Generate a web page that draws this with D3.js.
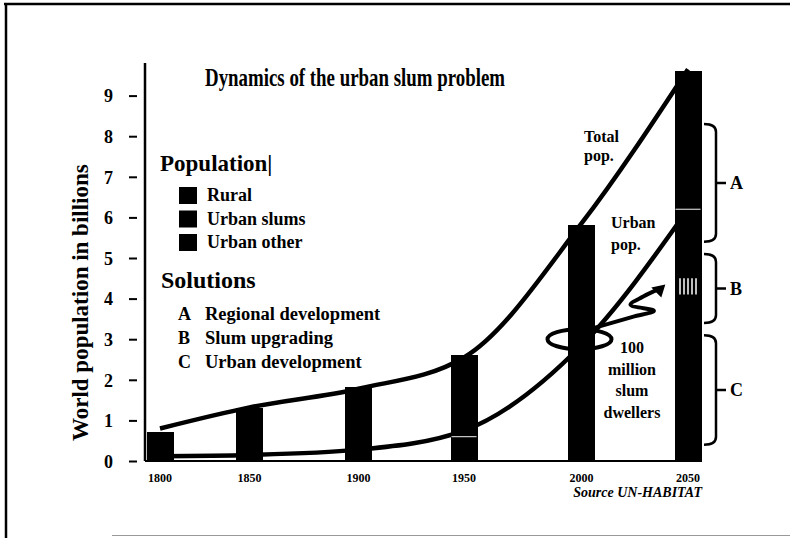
<!DOCTYPE html>
<html>
<head>
<meta charset="utf-8">
<script src="https://cdn.jsdelivr.net/npm/d3@7"></script>
<style>
	body { margin: 0; background: #fff; }
	svg { display: block; }
	text { font-family: "Liberation Serif", "Times New Roman", serif; fill: #000; }
</style>
</head>
<body>
<div id="chart"></div>
<script>
// values (billions)
var years = [1800, 1850, 1900, 1950, 2000, 2050];
var rural = [0.6, 1.1, 1.5, 2.0, 2.9, 3.4];
var urbanSlums = [0.02, 0.05, 0.1, 0.15, 0.9, 2.0];
var urbanOther = [0.08, 0.15, 0.2, 0.45, 2.0, 4.2];
var totalPop = [0.8, 1.32, 1.78, 2.55, 5.85, 9.65];
var urbanPop = [0.12, 0.15, 0.28, 0.75, 2.85, 6.2];
var yTicks = [0, 1, 2, 3, 4, 5, 6, 7, 8, 9];
var legendLabels = ["Rural", "Urban slums", "Urban other"];
var solutionKeys = ["A", "B", "C"];
var solutionLabels = ["Regional development", "Slum upgrading", "Urban development"];
var bracketTop = [8.3, 5.1, 3.1];
var bracketBottom = [5.4, 3.4, 0.4];
var slumNote = ["100", "million", "slum", "dwellers"];

var w = 790, h = 538;
var barW = 27;
// the year axis of the original is drawn by hand, so the stops are uneven
var xStops = [160, 249.5, 358.5, 464, 581.5, 688];

var svg = d3.select("#chart").append("svg")
	.attr("width", w)
	.attr("height", h);

// frame of the scanned slide
svg.append("line").attr("x1", 4).attr("x2", w).attr("y1", 4).attr("y2", 4)
	.attr("stroke", "#000").attr("stroke-width", 2.5);
svg.append("line").attr("x1", 6).attr("x2", 6).attr("y1", 3).attr("y2", h)
	.attr("stroke", "#000").attr("stroke-width", 2.5);
svg.append("line").attr("x1", 112).attr("x2", w).attr("y1", 535.5).attr("y2", 535.5)
	.attr("stroke", "#999").attr("stroke-width", 1);

var xScale = d3.scaleLinear().domain(years).range(xStops);
var yScale = d3.scaleLinear().domain([0, 9]).range([461, 95.6]);

var rows = years.map(function (y, i) {
	return {year: y, rural: rural[i], urbanSlums: urbanSlums[i], urbanOther: urbanOther[i]};
});
var stack = d3.stack().keys(["urbanOther", "urbanSlums", "rural"]);
var series = stack(rows);

// y axis
var yAxis = d3.axisLeft(yScale)
	.tickValues(yTicks)
	.tickSize(8)
	.tickPadding(16)
	.tickFormat(d3.format("d"));

var gy = svg.append("g")
	.attr("transform", "translate(137,0)")
	.call(yAxis);
gy.select(".domain").remove();
gy.selectAll(".tick line").attr("stroke", "#000").attr("stroke-width", 2);
gy.selectAll(".tick text")
	.attr("font-family", "Liberation Serif")
	.attr("font-size", 18)
	.attr("font-weight", "bold")
	.attr("dy", "0.35em");

svg.append("line")
	.attr("x1", 145).attr("x2", 145)
	.attr("y1", yScale(9.8)).attr("y2", yScale(0))
	.attr("stroke", "#000").attr("stroke-width", 2.5);

svg.append("text")
	.attr("transform", "translate(88," + yScale(3.9) + ") rotate(-90)")
	.attr("text-anchor", "middle")
	.attr("font-size", 23)
	.attr("font-weight", "bold")
	.text("World population in billions");

// population curves, drawn under the bars
var line = d3.line()
	.x(function (d) { return xScale(d[0]); })
	.y(function (d) { return yScale(d[1]); })
	.curve(d3.curveMonotoneX);

[totalPop, urbanPop].forEach(function (vals) {
	svg.append("path")
		.datum(years.map(function (y, i) { return [y, vals[i]]; }))
		.attr("d", line)
		.attr("fill", "none")
		.attr("stroke", "#000")
		.attr("stroke-width", 4.5);
});

// stacked bars (the scan is black & white, so every part is black)
svg.selectAll("g.layer")
	.data(series)
	.enter().append("g")
	.attr("class", "layer")
	.attr("fill", "#000")
	.selectAll("rect")
	.data(function (d) { return d; })
	.enter().append("rect")
	.attr("shape-rendering", "crispEdges")
	.attr("x", function (d) { return xScale(d.data.year) - barW / 2; })
	.attr("width", barW)
	.attr("y", function (d) { return yScale(d[1]) - 0.5; })
	.attr("height", function (d) { return yScale(d[0]) - yScale(d[1]) + 1; });

// pale seam between urban and rural where it shows
svg.selectAll("line.seam")
	.data(rows.filter(function (d) { return d.urbanOther + d.urbanSlums >= 0.5 && d.year !== 2000; }))
	.enter().append("line")
	.attr("class", "seam")
	.attr("x1", function (d) { return xScale(d.year) - barW / 2 + 1; })
	.attr("x2", function (d) { return xScale(d.year) + barW / 2 - 1; })
	.attr("y1", function (d) { return yScale(d.urbanOther + d.urbanSlums); })
	.attr("y2", function (d) { return yScale(d.urbanOther + d.urbanSlums); })
	.attr("stroke", "#ccc")
	.attr("stroke-width", 1.2);

// hatch in the 2050 bar where the arrow points
var hatchX = d3.range(-8, 10, 4);
svg.selectAll("line.hatch")
	.data(hatchX)
	.enter().append("line")
	.attr("class", "hatch")
	.attr("x1", function (d) { return xScale(2050) + d; })
	.attr("x2", function (d) { return xScale(2050) + d; })
	.attr("y1", yScale(4.5))
	.attr("y2", yScale(4.1))
	.attr("stroke", "#fff")
	.attr("stroke-width", 1.5);

// baseline
svg.append("line")
	.attr("x1", 145).attr("x2", xScale(2050) + barW / 2)
	.attr("y1", yScale(0)).attr("y2", yScale(0))
	.attr("stroke", "#000").attr("stroke-width", 2);

// x labels
svg.selectAll("text.year")
	.data(years)
	.enter().append("text")
	.attr("class", "year")
	.attr("x", function (d) { return xScale(d); })
	.attr("y", 482)
	.attr("text-anchor", "middle")
	.attr("font-size", 12)
	.attr("font-weight", "bold")
	.text(function (d) { return d; });

svg.append("text")
	.attr("x", 702).attr("y", 497)
	.attr("text-anchor", "end")
	.attr("font-size", 14)
	.attr("font-weight", "bold")
	.attr("font-style", "italic")
	.text("Source UN-HABITAT");

// title
svg.append("text")
	.attr("x", 205).attr("y", 86)
	.attr("font-size", 26)
	.attr("font-weight", "bold")
	.attr("textLength", 300)
	.attr("lengthAdjust", "spacingAndGlyphs")
	.text("Dynamics of the urban slum problem");

// legend
svg.append("text")
	.attr("x", 160).attr("y", 171)
	.attr("font-size", 23)
	.attr("font-weight", "bold")
	.text("Population|");

var lg = svg.selectAll("g.leg")
	.data(legendLabels)
	.enter().append("g")
	.attr("class", "leg")
	.attr("transform", function (d, i) { return "translate(179," + (187 + i * 23.5) + ")"; });
lg.append("rect").attr("width", 18).attr("height", 17).attr("fill", "#000");
lg.append("text")
	.attr("x", 28).attr("y", 14)
	.attr("font-size", 18)
	.attr("font-weight", "bold")
	.text(function (d) { return d; });

svg.append("text")
	.attr("x", 161).attr("y", 288)
	.attr("font-size", 24)
	.attr("font-weight", "bold")
	.text("Solutions");

var sg = svg.selectAll("g.sol")
	.data(solutionLabels)
	.enter().append("g")
	.attr("class", "sol")
	.attr("transform", function (d, i) { return "translate(178," + (320 + i * 24) + ")"; });
sg.append("text")
	.attr("font-size", 18)
	.attr("font-weight", "bold")
	.text(function (d, i) { return solutionKeys[i]; });
sg.append("text")
	.attr("x", 27)
	.attr("font-size", 18.5)
	.attr("font-weight", "bold")
	.text(function (d) { return d; });

// curve labels
function multiline(x, y, lines, anchor, step) {
	var t = svg.append("text")
		.attr("text-anchor", anchor)
		.attr("font-size", 16)
		.attr("font-weight", "bold");
	lines.forEach(function (s, i) {
		t.append("tspan").attr("x", x).attr("y", y + i * step).text(s);
	});
}
multiline(584, 142, ["Total", "pop."], "start", 19);
multiline(611, 228, ["Urban", "pop."], "start", 22);
multiline(632, 353, slumNote, "middle", 21.5);

// brackets for the solutions
var bx = 716;
var brackets = svg.selectAll("g.br")
	.data(solutionKeys)
	.enter().append("g")
	.attr("class", "br");
brackets.append("path")
	.attr("fill", "none")
	.attr("stroke", "#000")
	.attr("stroke-width", 2.5)
	.attr("d", function (d, i) {
		var y1 = yScale(bracketTop[i]), y2 = yScale(bracketBottom[i]);
		var m = (y1 + y2) / 2;
		return "M" + (bx - 12) + "," + y1 +
			"Q" + bx + "," + y1 + " " + bx + "," + (y1 + 8) +
			"L" + bx + "," + (y2 - 8) +
			"Q" + bx + "," + y2 + " " + (bx - 12) + "," + y2 +
			"M" + bx + "," + m + "L" + (bx + 10) + "," + m;
	});
brackets.append("text")
	.attr("x", bx + 14)
	.attr("y", function (d, i) { return (yScale(bracketTop[i]) + yScale(bracketBottom[i])) / 2; })
	.attr("dy", "0.35em")
	.attr("font-size", 18)
	.attr("font-weight", "bold")
	.text(function (d) { return d; });

// lasso around the slum dwellers in 2000 and the squiggly arrow
svg.append("ellipse")
	.attr("cx", xScale(2000) - 2)
	.attr("cy", yScale(3.0))
	.attr("rx", 32)
	.attr("ry", 10)
	.attr("fill", "none")
	.attr("stroke", "#000")
	.attr("stroke-width", 4);

var squiggle = [[2000.6, 3.2], [2024, 3.55], [2034, 3.7], [2023, 3.85], [2029, 4.05], [2037, 4.25]];
var sLine = d3.line()
	.x(function (d) { return xScale(d[0]); })
	.y(function (d) { return yScale(d[1]); })
	.curve(d3.curveCatmullRom);
svg.append("path")
	.datum(squiggle)
	.attr("d", sLine)
	.attr("fill", "none")
	.attr("stroke", "#000")
	.attr("stroke-width", 4);
var tip = squiggle[squiggle.length - 1];
var tx = xScale(tip[0]), ty = yScale(tip[1]);
svg.append("path")
	.attr("d", "M" + (tx + 5) + "," + (ty - 4) + "L" + (tx - 9) + "," + (ty - 1) + "L" + (tx + 1) + "," + (ty + 9) + "Z")
	.attr("fill", "#000");
</script>
</body>
</html>
